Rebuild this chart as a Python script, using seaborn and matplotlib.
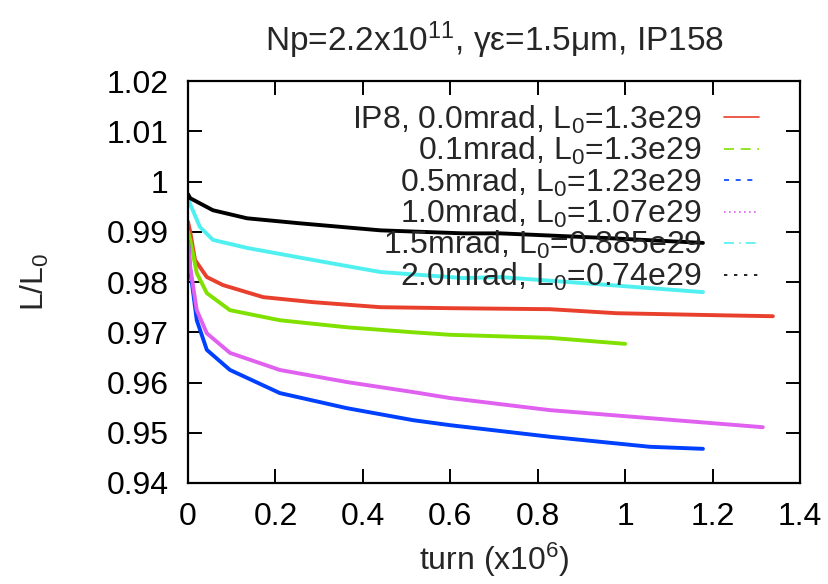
import matplotlib
matplotlib.use("Agg")
import matplotlib.pyplot as plt
from matplotlib.lines import Line2D
import pandas as pd
import seaborn as sns

# values (turn in 1e6, luminosity ratio L/L0)
turn_red = [0.0, 0.005, 0.016, 0.043, 0.08, 0.172, 0.286, 0.44, 0.6, 0.828, 0.98, 1.21, 1.338]
lum_red = [0.992, 0.990, 0.9844, 0.981, 0.9794, 0.977, 0.976, 0.975, 0.9748, 0.9746, 0.9738, 0.9734, 0.9732]

turn_green = [0.0, 0.005, 0.02, 0.043, 0.096, 0.21, 0.363, 0.515, 0.6, 0.828, 1.0]
lum_green = [0.990, 0.9884, 0.9818, 0.9778, 0.9744, 0.9724, 0.971, 0.970, 0.9695, 0.9689, 0.9677]

turn_blue = [0.0, 0.005, 0.02, 0.043, 0.096, 0.21, 0.363, 0.515, 0.6, 0.828, 1.057, 1.178]
lum_blue = [0.988, 0.9824, 0.9724, 0.9665, 0.9625, 0.9579, 0.9549, 0.9525, 0.9515, 0.9492, 0.9472, 0.9468]

turn_magenta = [0.0, 0.005, 0.02, 0.043, 0.096, 0.21, 0.363, 0.515, 0.6, 0.828, 1.057, 1.315]
lum_magenta = [0.988, 0.983, 0.9744, 0.9698, 0.9659, 0.9625, 0.9601, 0.9581, 0.9569, 0.9545, 0.9529, 0.9511]

turn_cyan = [0.0, 0.005, 0.027, 0.057, 0.135, 0.286, 0.44, 0.63, 0.714, 0.95, 1.178]
lum_cyan = [0.997, 0.9955, 0.991, 0.9884, 0.9868, 0.9844, 0.982, 0.9808, 0.981, 0.9795, 0.978]

turn_black = [0.0, 0.005, 0.057, 0.135, 0.256, 0.44, 0.63, 0.714, 0.95, 1.178]
lum_black = [0.9975, 0.9967, 0.9943, 0.9927, 0.9917, 0.9903, 0.9897, 0.9897, 0.9888, 0.9878]

labels = [
    r"IP8, 0.0mrad, L$_0$=1.3e29",
    r"0.1mrad, L$_0$=1.3e29",
    r"0.5mrad, L$_0$=1.23e29",
    r"1.0mrad, L$_0$=1.07e29",
    r"1.5mrad, L$_0$=0.885e29",
    r"2.0mrad, L$_0$=0.74e29",
]
colors = ["#e8402c", "#80e000", "#0040ff", "#e060f0", "#50f0f0", "#000000"]
legend_dashes = ["-", (0, (6, 4)), (0, (3, 4)), (0, (1, 2)), (0, (6, 3, 1, 3)), (0, (2, 4))]

series = [
    (turn_red, lum_red),
    (turn_green, lum_green),
    (turn_blue, lum_blue),
    (turn_magenta, lum_magenta),
    (turn_cyan, lum_cyan),
    (turn_black, lum_black),
]

frames = []
for lab, (t, l) in zip(labels, series):
    frames.append(pd.DataFrame({"turn": t, "lum": l, "case": lab}))
df = pd.concat(frames, ignore_index=True)

sns.set_style("ticks")
plt.rcParams["font.family"] = ["Liberation Sans", "DejaVu Sans"]
plt.rcParams["mathtext.default"] = "regular"

fig = plt.figure(figsize=(8.29, 5.84), dpi=100)
ax = fig.add_axes([0.2268, 0.173, 0.7382, 0.688])

sns.lineplot(data=df, x="turn", y="lum", hue="case", hue_order=labels,
             palette=colors, linewidth=2.8, legend=False, ax=ax, sort=False)

ax.set_xlim(0, 1.4)
ax.set_ylim(0.94, 1.02)
ax.set_xticks([0, 0.2, 0.4, 0.6, 0.8, 1.0, 1.2, 1.4])
ax.set_xticklabels(["0", "0.2", "0.4", "0.6", "0.8", "1", "1.2", "1.4"])
ax.set_yticks([0.94, 0.95, 0.96, 0.97, 0.98, 0.99, 1.0, 1.01, 1.02])
ax.set_yticklabels(["0.94", "0.95", "0.96", "0.97", "0.98", "0.99", "1", "1.01", "1.02"])
ax.tick_params(direction="in", length=10, width=1.4, top=True, right=True,
               labelsize=23, pad=14, color="black", labelcolor="black")
for sp in ax.spines.values():
    sp.set_linewidth(1.6)
    sp.set_color("black")

ax.set_xlabel(r"turn (x10$^6$)", fontsize=23, labelpad=6)
ax.set_ylabel(r"L/L$_0$", fontsize=23, labelpad=40)
ax.set_title(r"Np=2.2x10$^{11}$, γε=1.5μm, IP158", fontsize=24, pad=22)

handles = [Line2D([], [], color=c, linestyle=ls, linewidth=1.2)
           for c, ls in zip(colors, legend_dashes)]
ax.legend(handles, labels, loc="upper right", frameon=False, markerfirst=False,
          fontsize=23, labelspacing=-0.02, handlelength=1.1, handletextpad=0.7,
          borderaxespad=0.3, borderpad=0.4, bbox_to_anchor=(0.97, 1.0))
for t in ax.get_legend().get_texts():
    t.set_ha("right")
ax.get_legend()._legend_box.align = "right"

fig.savefig("out.png", dpi=100)
